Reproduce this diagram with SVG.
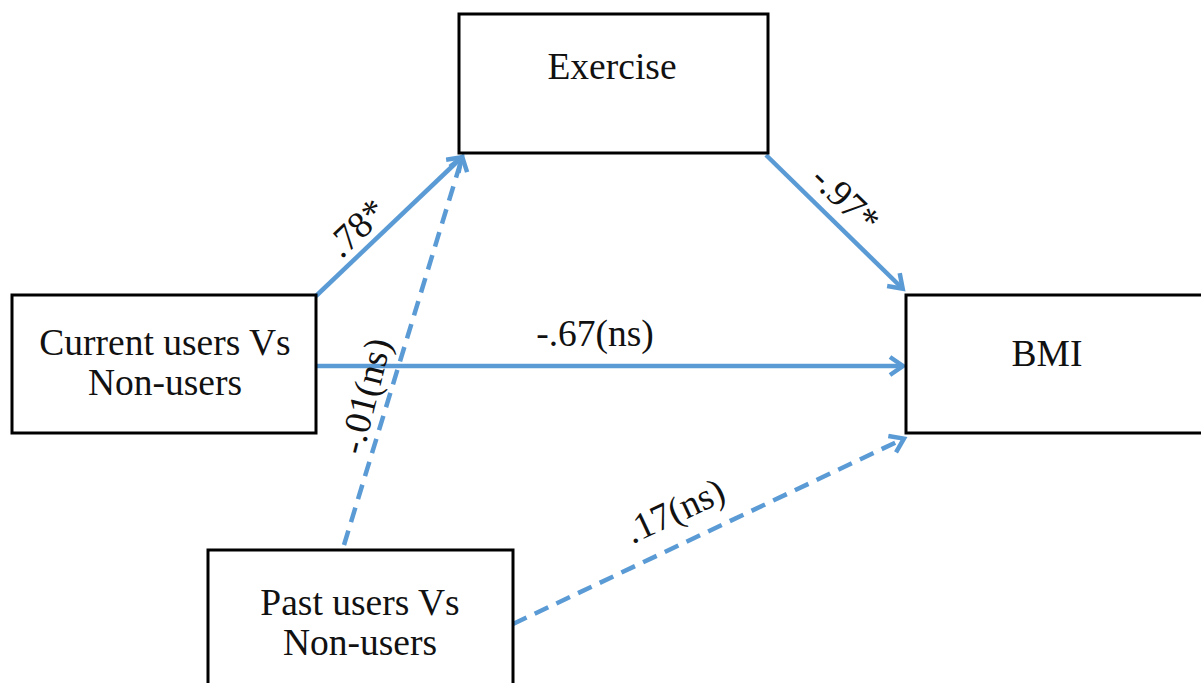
<svg xmlns="http://www.w3.org/2000/svg" width="1201" height="683" viewBox="0 0 1201 683">
<style>
.box{fill:#fff;stroke:#000;stroke-width:3}
.t{font-family:"Liberation Serif","Times New Roman",serif;font-size:37.5px;fill:#111;text-anchor:middle}
.c{stroke:#5B9BD5;stroke-width:4.5;fill:none}
.d{stroke-dasharray:15,9}
</style>
<defs>
<marker id="ah" markerUnits="userSpaceOnUse" markerWidth="26" markerHeight="26" refX="15" refY="11" orient="auto">
<path d="M3,2 L16,11 L3,20" fill="none" stroke="#5B9BD5" stroke-width="4.5" stroke-linejoin="miter"/>
</marker>
</defs>
<rect width="1201" height="683" fill="#fff"/>
<g id="connectors">
<line class="c" x1="316" y1="296" x2="461" y2="158" marker-end="url(#ah)"/>
<line class="c d" x1="344" y1="545" x2="462" y2="158" marker-end="url(#ah)"/>
<line class="c" x1="766" y1="155" x2="902" y2="288" marker-end="url(#ah)"/>
<line class="c" x1="316" y1="366" x2="902" y2="366" marker-end="url(#ah)"/>
<line class="c d" x1="513" y1="624" x2="903" y2="439" marker-end="url(#ah)"/>
<text class="t" transform="translate(365,237) rotate(-43.4)">.78*</text>
<text class="t" transform="translate(837,208) rotate(44.4)">-.97*</text>
<text class="t" x="595" y="346">-.67(ns)</text>
<text class="t" transform="translate(377,399) rotate(-76)">-.01(ns)</text>
<text class="t" transform="translate(680,522) rotate(-25)">.17(ns)</text>
</g>
<g id="exercise">
<rect class="box" x="459" y="14" width="309" height="139"/>
<text class="t" x="612" y="79">Exercise</text>
</g>
<g id="current">
<rect class="box" x="12" y="295" width="304" height="138"/>
<text class="t" x="165" y="355">Current users Vs</text>
<text class="t" x="165" y="395">Non-users</text>
</g>
<g id="bmi">
<rect class="box" x="906" y="295" width="300" height="138"/>
<text class="t" x="1047" y="366">BMI</text>
</g>
<g id="past">
<rect class="box" x="208" y="550" width="305" height="140"/>
<text class="t" x="360" y="615">Past users Vs</text>
<text class="t" x="360" y="655">Non-users</text>
</g>
</svg>
